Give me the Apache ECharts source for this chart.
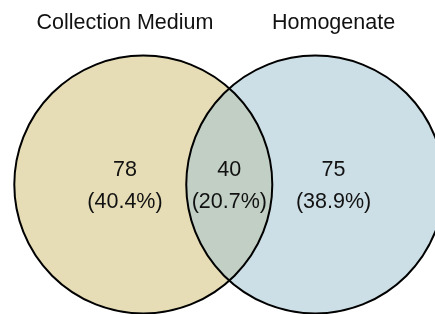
<!DOCTYPE html>
<html>
<head>
<meta charset="utf-8">
<script src="https://cdn.jsdelivr.net/npm/echarts@6/dist/echarts.min.js"></script>
<style>
  html, body { margin: 0; padding: 0; background: #fff; }
  #container { width: 435px; height: 314px; }
</style>
</head>
<body>
<div id="container"></div>
<script>
// sets and region counts (left only, shared, right only)
var setNames = ['Collection Medium', 'Homogenate'];
var regionCounts = [78, 40, 75];
var setColors = ['#e6ddb6', '#ccdfe6'];
var overlapColor = '#c1cfc5';

// layout in units of circle radius
var centersX = [0, 1.333];
var regionLabelX = [-0.142, 0.6665, 1.475];

var total = regionCounts.reduce(function (a, b) { return a + b; }, 0);
var fontFamily = '"Liberation Sans", Arial, Helvetica, sans-serif';
var font = '21.5px ' + fontFamily;

var dom = document.getElementById('container');
var myChart = echarts.init(dom, null, { renderer: 'canvas' });

function circleItem(filled) {
    return function (params, api) {
        var c = api.coord([api.value(0), 0]);
        var r = api.size([1, 0])[0];
        return {
            type: 'circle',
            shape: { cx: c[0], cy: c[1], r: r },
            style: filled
                ? { fill: setColors[params.dataIndex], stroke: null }
                : { fill: null, stroke: '#000', lineWidth: 2 }
        };
    };
}

// lens = right arc of left circle + left arc of right circle
function lensItem(params, api) {
    var half = (centersX[1] - centersX[0]) / 2;
    var a = Math.acos(half);
    var pts = [];
    var n = 60;
    for (var i = 0; i <= n; i++) {
        var t = -a + 2 * a * i / n;
        pts.push(api.coord([centersX[0] + Math.cos(t), Math.sin(t)]));
    }
    for (var j = 0; j <= n; j++) {
        var s = Math.PI - a + 2 * a * j / n;
        pts.push(api.coord([centersX[1] + Math.cos(s), -Math.sin(s)]));
    }
    return {
        type: 'polygon',
        shape: { points: pts },
        style: { fill: overlapColor, stroke: null }
    };
}

function labelItem(params, api) {
    var count = api.value(1);
    var top = api.coord([api.value(0), 0.112]);
    var bot = api.coord([api.value(0), -0.136]);
    var pct = (count / total * 100).toFixed(1);
    return {
        type: 'group',
        children: [
            { type: 'text', x: top[0], y: top[1],
              style: { text: String(count), fill: '#111', font: font, textAlign: 'center', textVerticalAlign: 'middle' } },
            { type: 'text', x: bot[0], y: bot[1],
              style: { text: '(' + pct + '%)', fill: '#111', font: font, textAlign: 'center', textVerticalAlign: 'middle' } }
        ]
    };
}

function titleItem(params, api) {
    var p = api.coord([api.value(0), 1.252]);
    return {
        type: 'text', x: p[0], y: p[1],
        style: { text: setNames[params.dataIndex], fill: '#111', font: font, textAlign: 'center', textVerticalAlign: 'middle' }
    };
}

var option = {
    backgroundColor: '#fff',
    animation: false,
    grid: { left: 14.3, top: 55.5, right: 0, bottom: 0.5 },
    xAxis: { type: 'value', min: -1, max: (435 - 14.3) / 129 - 1, show: false },
    yAxis: { type: 'value', min: -1, max: 1, show: false },
    series: [
        { type: 'custom', renderItem: circleItem(true), data: centersX.map(function (x) { return [x]; }), clip: false },
        { type: 'custom', renderItem: lensItem, data: [[regionCounts[1]]], clip: false },
        { type: 'custom', renderItem: circleItem(false), data: centersX.map(function (x) { return [x]; }), clip: false },
        { type: 'custom', renderItem: labelItem, data: regionLabelX.map(function (x, i) { return [x, regionCounts[i]]; }), clip: false },
        { type: 'custom', renderItem: titleItem, data: [[regionLabelX[0]], [regionLabelX[2]]], clip: false }
    ]
};

if (option && typeof option === 'object') {
    myChart.setOption(option, true);
}
</script>
</body>
</html>
